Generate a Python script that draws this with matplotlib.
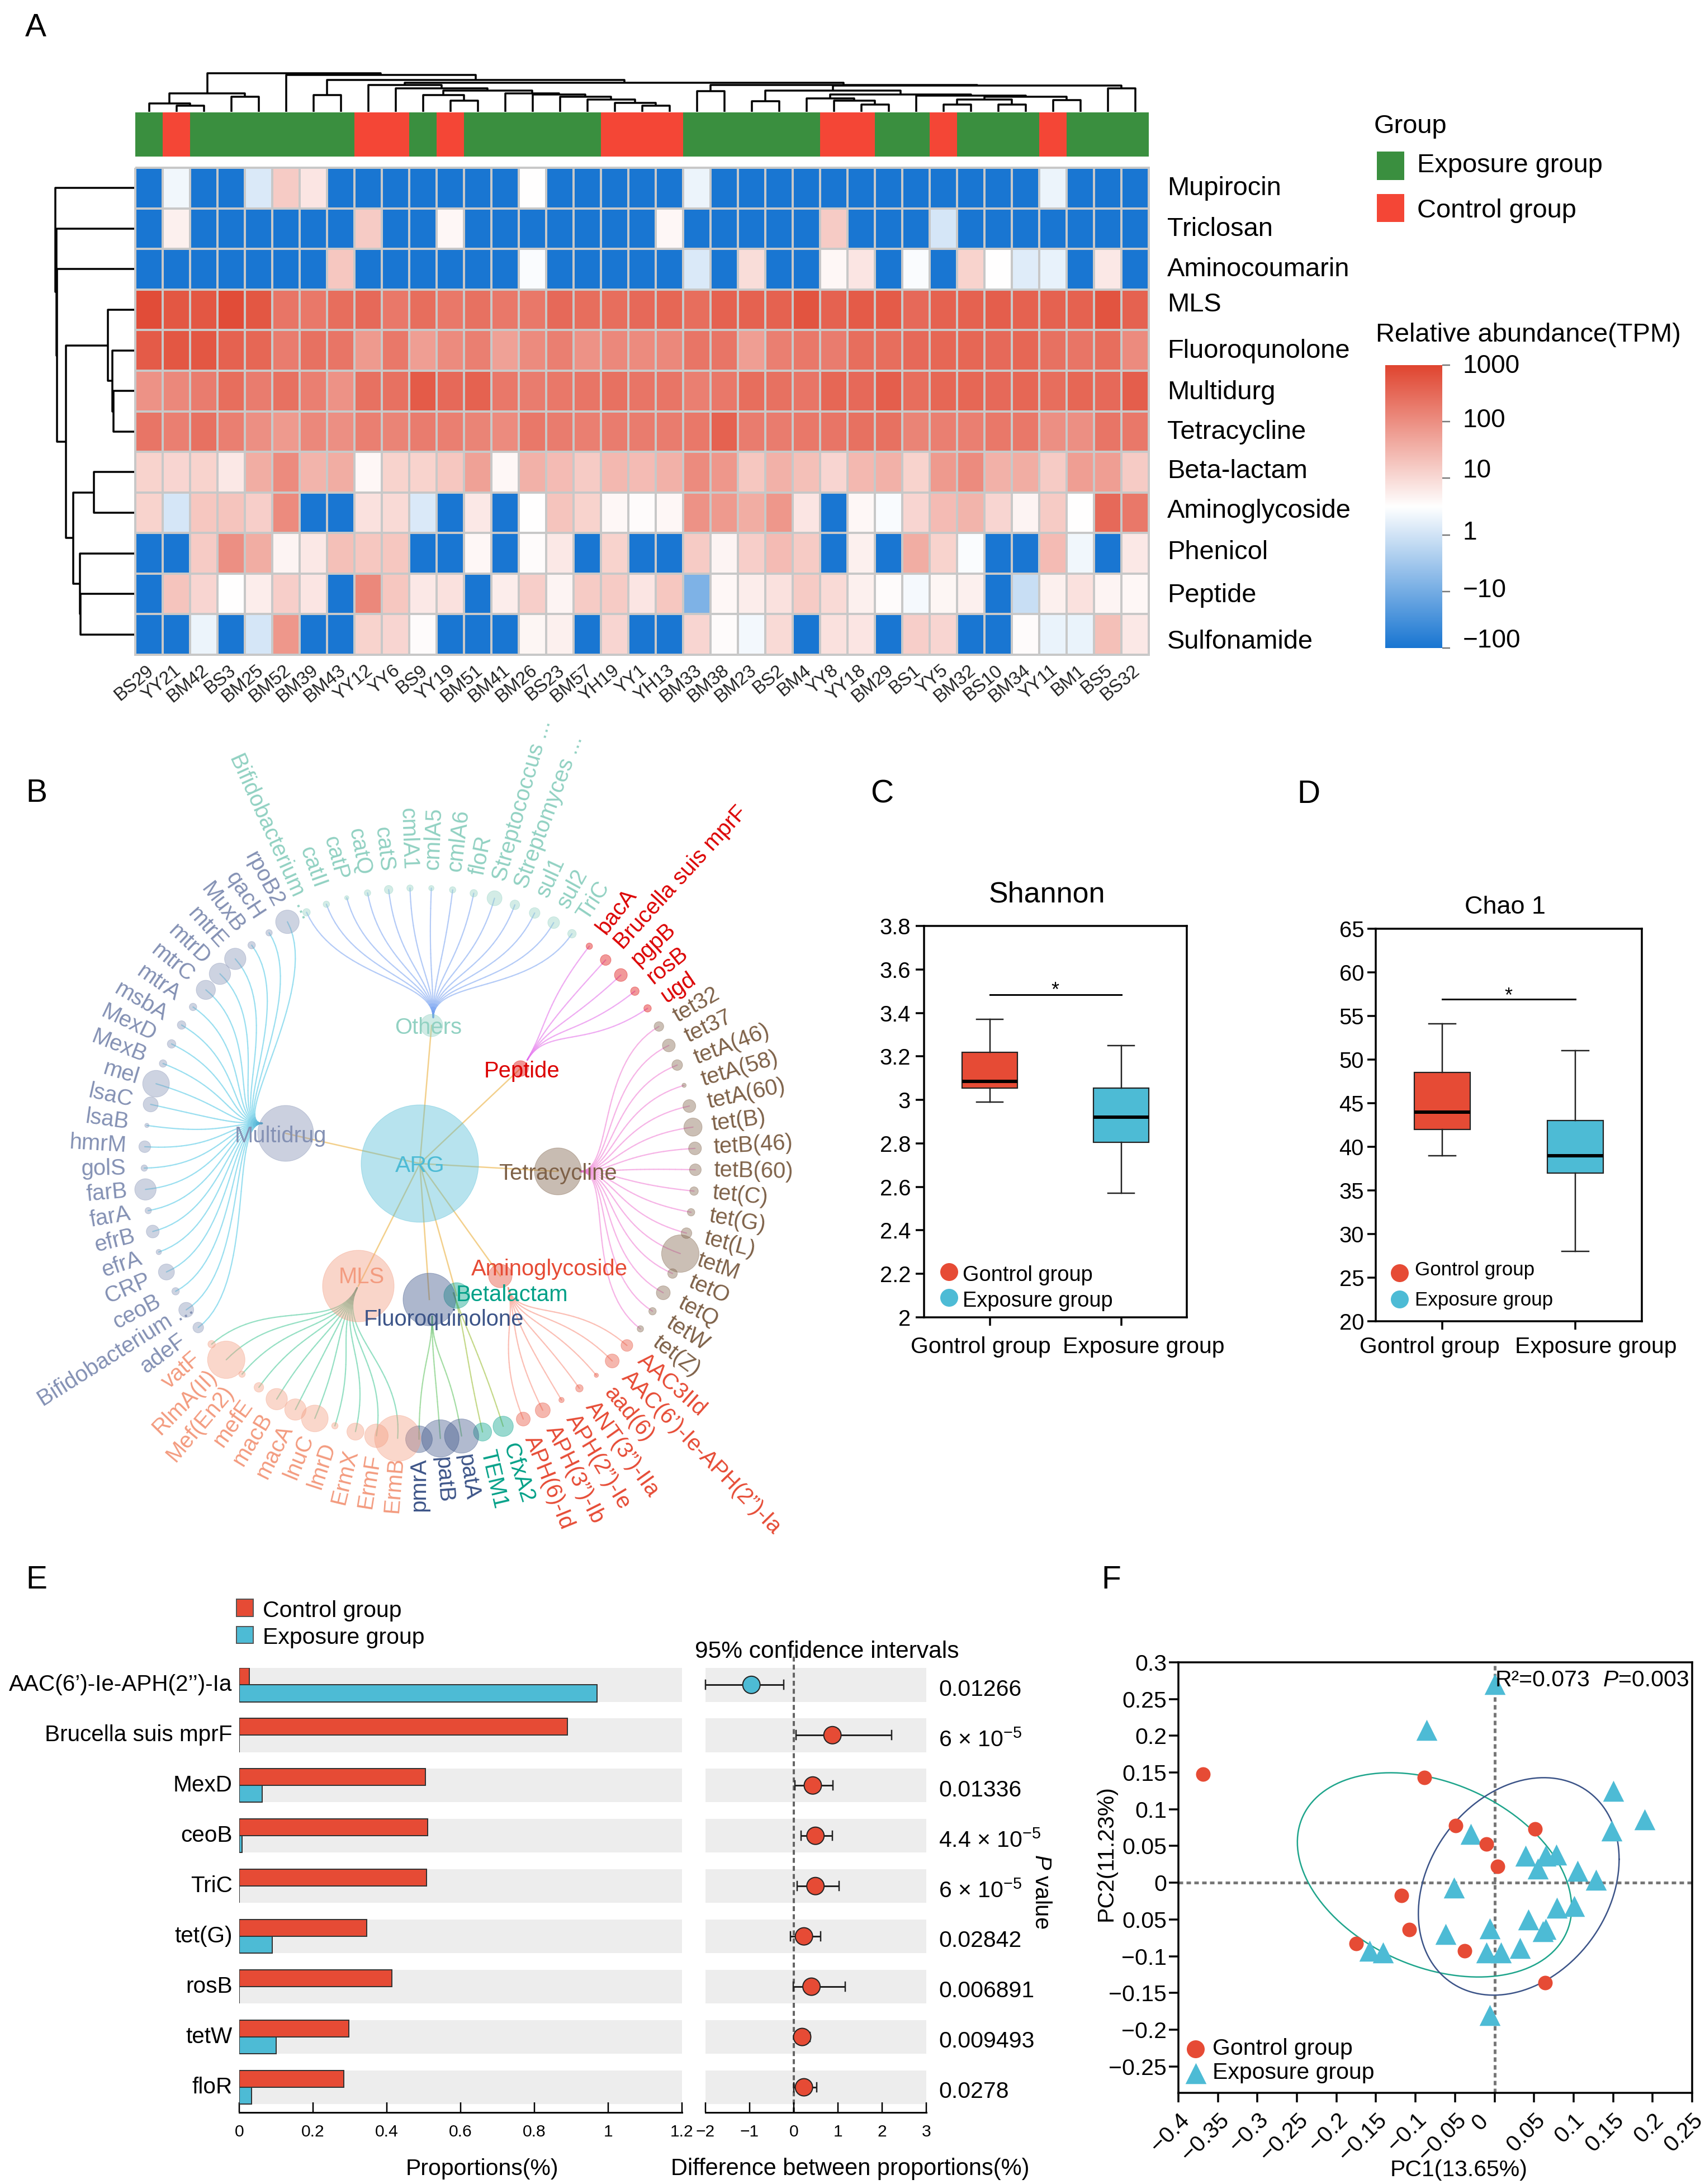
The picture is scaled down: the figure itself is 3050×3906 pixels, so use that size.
import numpy as np
import matplotlib
matplotlib.use('Agg')
import matplotlib.pyplot as plt
from matplotlib.collections import LineCollection
from matplotlib.colors import LinearSegmentedColormap, Normalize, to_rgb
from matplotlib.patches import Circle, Rectangle

plt.rcParams['font.family'] = ['Liberation Sans', 'DejaVu Sans']
plt.rcParams['mathtext.fontset'] = 'custom'
plt.rcParams['mathtext.rm'] = 'Liberation Sans'
plt.rcParams['mathtext.it'] = 'Liberation Sans:italic'
plt.rcParams['mathtext.default'] = 'regular'

W, H = 3050, 3906

# ---------- A: heatmap, values as colour levels (-2 = -100 ... 3 = 1000)
samples = ['BS29', 'YY21', 'BM42', 'BS3', 'BM25', 'BM52', 'BM39', 'BM43', 'YY12', 'YY6', 'BS9', 'YY19', 'BM51',
           'BM41', 'BM26', 'BS23', 'BM57', 'YH19', 'YY1', 'YH13', 'BM33', 'BM38', 'BM23', 'BS2', 'BM4', 'YY8',
           'YY18', 'BM29', 'BS1', 'YY5', 'BM32', 'BS10', 'BM34', 'YY11', 'BM1', 'BS5', 'BS32']
classes = ['Mupirocin', 'Triclosan', 'Aminocoumarin', 'MLS', 'Fluoroqunolone', 'Multidurg', 'Tetracycline',
           'Beta-lactam', 'Aminoglycoside', 'Phenicol', 'Peptide', 'Sulfonamide']
mupirocin = [-2, .35, -2, -2, .1, 1.2, .85, -2, -2, -2, -2, -2, -2, -2, .5, -2, -2, -2, -2, -2, .3, -2, -2, -2, -2,
             -2, -2, -2, -2, -2, -2, -2, -2, .3, -2, -2, -2]
triclosan = [-2, .7, -2, -2, -2, -2, -2, -2, 1.2, -2, -2, .6, -2, -2, -2, -2, -2, -2, -2, .6, -2, -2, -2, -2, -2,
             1.2, -2, -2, -2, .05, -2, -2, -2, -2, -2, -2, -2]
aminocoumarin = [-2, -2, -2, -2, -2, -2, -2, 1.25, -2, -2, -2, -2, -2, -2, .45, -2, -2, -2, -2, -2, .1, -2, .95, -2,
                 -2, .6, .85, -2, .45, -2, 1.1, .5, .15, .25, -2, .8, -2]
mls = [2.9, 2.75, 2.75, 2.9, 2.75, 2.35, 2.3, 2.45, 2.5, 2.3, 2.45, 2.3, 2.4, 2.3, 2.3, 2.5, 2.45, 2.45, 2.5, 2.55,
       2.45, 2.6, 2.6, 2.6, 2.8, 2.6, 2.7, 2.7, 2.5, 2.6, 2.6, 2.65, 2.6, 2.6, 2.6, 2.8, 2.6]
fluoroq = [2.7, 2.75, 2.75, 2.6, 2.55, 2.25, 2.4, 2.35, 1.85, 2.3, 1.8, 2.05, 2.2, 1.75, 2.05, 2.2, 1.95, 2.1, 2.05,
           2.1, 2.35, 2.35, 1.8, 2.2, 2.3, 2.25, 2.45, 2.45, 2.5, 2.55, 2.55, 2.5, 2.55, 2.4, 2.35, 2.45, 2.05]
multidrug = [1.95, 2.1, 2.25, 2.45, 2.25, 2.4, 2.2, 1.95, 2.4, 2.4, 2.7, 2.5, 2.6, 2.3, 2.25, 2.3, 2.35, 2.4, 2.35,
             2.35, 2.2, 2.3, 2.45, 2.4, 2.35, 2.55, 2.5, 2.65, 2.45, 2.55, 2.55, 2.5, 2.55, 2.45, 2.55, 2.5, 2.65]
tetracycline = [2.35, 2.2, 2.4, 2.2, 2, 1.85, 2.1, 2, 2.2, 2.15, 2.25, 2.2, 2.15, 2.05, 2.3, 2.25, 2.2, 2.25, 2.25,
                2.25, 2.3, 2.6, 2.25, 2.25, 2.3, 2.35, 2.4, 2.4, 2.15, 2.2, 2.2, 2.3, 2.3, 2, 2, 2.35, 2.3]
betalactam = [1.1, 1.05, 1.1, .8, 1.6, 2.05, 1.5, 1.6, .6, 1.1, 1.1, 1.25, 1.75, .6, 1.55, 1.4, 1.2, 1.45, 1.4, 1.55,
              2.05, 1.9, 1.25, 1.55, 1.35, 1.05, 1.45, 1.55, 1.1, 1.85, 2.05, 1.55, 1.6, 1.2, 1.8, 1.8, 1.2]
aminogly = [1.1, .05, 1.25, 1.3, 1.15, 2.05, -2, -2, .9, 1, .1, -2, .8, -2, .5, 1.3, 1.1, .6, .55, .6, 1.95, 1.85,
            1.6, 1.9, .85, -2, .6, .43, 1.05, 1.4, 1.5, 1.05, .65, 1.2, .5, 2.5, 2.3]
phenicol = [-2, -2, 1.2, 2, 1.6, .65, .8, 1.35, 1.25, 1.25, -2, -2, .6, -2, .55, .8, -2, 1.1, -2, -2, 1.2, .65, 1.15,
            1.4, 1.2, -2, .7, -2, 1.6, 1.1, .45, -2, -2, 1.4, .35, -2, .8]
peptide = [-2, 1.3, 1.05, .5, .75, 1.15, .85, -2, 2.1, 1.25, .8, .9, -2, .75, 1.15, .65, 1.2, 1.2, .85, 1.25, -.9,
           .6, .75, .9, 1.2, 1, .7, .55, .4, .62, .7, -2, -.1, .7, .9, .65, .6]
sulfonamide = [-2, -2, .3, -2, .05, 1.9, -2, -2, 1.1, 1.05, .55, -2, -2, -2, .62, .7, -2, 1.05, -2, -2, 1.05, .55,
               .38, 1, -2, .9, .85, -2, 1.15, 1.05, -2, -2, .55, .28, .28, 1.35, .8]
cb_values = [-2, -1, 0, 1, 2, 3]
cb_labels = ['\u2212100', '\u221210', '1', '10', '100', '1000']

# dendrograms: merges of two nodes at a height, new nodes numbered after the leaves
col_left = [1, 0, 3, 38, 6, 11, 10, 18, 17, 16, 15, 14, 13, 43, 9, 8, 20, 22, 26, 25, 24, 29, 31, 58, 33, 60, 28, 57,
            54, 35, 65, 53, 52, 41, 5, 40]
col_right = [2, 37, 4, 39, 7, 12, 42, 19, 44, 45, 46, 47, 48, 49, 50, 51, 21, 23, 27, 55, 56, 30, 32, 59, 34, 61, 62,
             63, 64, 36, 66, 67, 68, 69, 70, 71]
col_height = [11, 15, 27, 33, 30, 20, 30, 11, 16, 22, 27, 31, 33, 38, 42, 48, 37, 19, 13, 20, 24, 13, 13, 22, 21, 27,
              29, 31, 38, 42, 47, 48, 52, 57, 66, 69]
row_left = [5, 4, 3, 7, 10, 9, 15, 14, 2, 1, 0]
row_right = [6, 12, 13, 8, 11, 16, 17, 18, 19, 20, 21]
row_height = [37, 39, 47, 72, 96, 97, 109, 122, 138, 139, 141]

# ---------- B: ARG network, leaves in clockwise order from the top left
npg_others, npg_pep, npg_tet, npg_ami = '#91D1C2', '#DC0000', '#7E6148', '#E64B35'
npg_bet, npg_flu, npg_mls, npg_mul = '#00A087', '#3C5488', '#F39B7F', '#8491B4'
group_names = ['Others', 'Peptide', 'Tetracycline', 'Aminoglycoside', 'Betalactam', 'Fluoroquinolone', 'MLS',
               'Multidrug']
group_colors = [npg_others, npg_pep, npg_tet, npg_ami, npg_bet, npg_flu, npg_mls, npg_mul]
edge_colors = ['#B4CBF7', '#EFACF2', '#F6B4E6', '#FBBFB5', '#C5D98A', '#A5DDA5', '#96E0C4', '#9ADFF0']
edge_dark = ['#5F93EE', '#E36CF0', '#E46CCB', '#F59A8A', '#A9C25C', '#4FA95F', '#5E9C86', '#43A9CF']
group_x = [772, 931, 998, 895, 817, 768, 641, 511]
group_y = [1834, 1911, 2095, 2282, 2317, 2324, 2300, 2027]
group_r = [20, 14, 42, 21, 23, 47, 64, 50]
fan_x = [775, 943, 1038, 909, 811, 773, 639, 469]
fan_y = [1820, 1896, 2095, 2303, 2312, 2354, 2303, 2009]
stem_dx = [0, 35, 60, 15, 20, 0, -40, -60]
stem_dy = [-70, -60, 0, 60, 60, 70, 80, 0]
label_x = [766, 934, 998, 983, 916, 794, 647, 502]
label_y = [1834, 1912, 2095, 2266, 2312, 2356, 2280, 2028]
leaf_names = [
    ['Bifidobacterium ...', 'catII', 'catP', 'catQ', 'catS', 'cmlA1', 'cmlA5', 'cmlA6', 'floR', 'Streptococcus ...',
     'Streptomyces ...', 'sul1', 'sul2', 'TriC'],
    ['bacA', 'Brucella suis mprF', 'pgpB', 'rosB', 'ugd'],
    ['tet32', 'tet37', 'tetA(46)', 'tetA(58)', 'tetA(60)', 'tet(B)', 'tetB(46)', 'tetB(60)', 'tet(C)', 'tet(G)',
     'tet(L)', 'tetM', 'tetO', 'tetQ', 'tetW', 'tet(Z)'],
    ['AAC3IId', 'AAC(6\u2019)-Ie-APH(2\u201d)-Ia', 'aad(6)', 'ANT(3\u201d)-IIa', 'APH(2\u201d)-Ie', 'APH(3\u201d)-Ib',
     'APH(6)-Id'],
    ['CfxA2', 'TEM1'],
    ['patA', 'patB', 'pmrA'],
    ['ErmB', 'ErmF', 'ErmX', 'lmrD', 'lnuC', 'macA', 'macB', 'mefE', 'Mef(En2)', 'RlmA(II)', 'vatF'],
    ['adeF', 'Bifidobacterium ...', 'ceoB', 'CRP', 'efrA', 'efrB', 'farA', 'farB', 'golS', 'hmrM', 'lsaB', 'lsaC',
     'mel', 'MexB', 'MexD', 'msbA', 'mtrA', 'mtrC', 'mtrD', 'mtrE', 'MuxB', 'qacH', 'rpoB2'],
]
leaf_sizes = [
    [7, 6, 4, 6, 8, 6, 5, 6, 7, 14, 9, 10, 11, 8],
    [6, 10, 12, 8, 7],
    [9, 12, 10, 4, 12, 17, 12, 11, 8, 7, 10, 35, 9, 13, 7, 6],
    [11, 13, 4, 7, 5, 14, 13],
    [19, 17],
    [32, 35, 25],
    [43, 22, 16, 6, 25, 20, 20, 9, 6, 35, 7],
    [10, 14, 7, 15, 5, 12, 6, 20, 6, 11, 4, 14, 25, 7, 8, 8, 7, 18, 20, 20, 7, 6, 22],
]

# ---------- C, D: box plots
box_names = ['Gontrol group', 'Exposure group']
shannon_low = [2.99, 2.57]
shannon_q1 = [3.055, 2.805]
shannon_med = [3.085, 2.92]
shannon_q3 = [3.22, 3.055]
shannon_high = [3.37, 3.25]
chao_low = [39, 28]
chao_q1 = [42, 37]
chao_med = [44, 39]
chao_q3 = [48.5, 43]
chao_high = [54.1, 51]

# ---------- E: proportions and differences
genes = ['AAC(6\u2019)-Ie-APH(2\u2019\u2019)-Ia', 'Brucella suis mprF', 'MexD', 'ceoB', 'TriC', 'tet(G)', 'rosB',
         'tetW', 'floR']
prop_control = [.027, .89, .505, .51, .507, .345, .413, .297, .283]
prop_exposure = [.97, 0, .062, .008, 0, .09, 0, .10, .033]
diff_mean = [-.96, .875, .43, .49, .49, .23, .4, .19, .23]
diff_low = [-2, .05, .02, .16, .08, -.07, -.01, .05, 0]
diff_high = [-.23, 2.22, .89, .87, 1.03, .61, 1.17, .37, .52]
p_values = ['0.01266', '6 \u00d7 10$^{\u22125}$', '0.01336', '4.4 \u00d7 10$^{\u22125}$', '6 \u00d7 10$^{\u22125}$',
            '0.02842', '0.006891', '0.009493', '0.0278']

# ---------- F: PCoA
ctrl_pc1 = [-.369, -.089, -.049, .051, -.01, .004, -.118, -.108, -.175, -.038, .064]
ctrl_pc2 = [.148, .143, .078, .073, .053, .022, -.017, -.064, -.083, -.093, -.136]
expo_pc1 = [0, -.086, .15, .19, .148, -.03, .039, .065, .078, .055, .105, .128, -.051, .079, .101, .043, .065, .061,
            -.006, -.062, .032, .008, -.01, -.158, -.141, -.006]
expo_pc2 = [.27, .208, .125, .086, .071, .066, .037, .037, .038, .019, .016, .004, -.007, -.034, -.032, -.05, -.063,
            -.066, -.062, -.07, -.089, -.095, -.095, -.093, -.095, -.18]
# ellipse: centre x, centre y, half width, half height, correlation
ell_green = [-.076, .0107, .1735, .139, -.32]
ell_blue = [.0306, -.005, .127, .148, .25]
pc1_ticks = [-.4, -.35, -.3, -.25, -.2, -.15, -.1, -.05, 0, .05, .1, .15, .2, .25]
pc1_labels = ['\u22120.4', '\u22120.35', '\u22120.3', '\u22120.25', '\u22120.2', '\u22120.15', '\u22120.1',
              '\u22120.05', '', '0.05', '0.1', '0.15', '0.2', '0.25']
pc2_ticks = [.3, .25, .2, .15, .1, .05, 0, -.05, -.1, -.15, -.2, -.25]
pc2_labels = ['0.3', '0.25', '0.2', '0.15', '0.1', '0.05', '0', '0.05', '\u22120.1', '\u22120.15', '\u22120.2',
              '\u22120.25']

RED = '#E64B35'
BLUE = '#4DBBD5'
GREEN_ANN = '#3A8F3F'
RED_ANN = '#F44636'
PX = 72 / 100  # points per pixel at dpi=100

fig = plt.figure(figsize=(W / 100, H / 100), dpi=100)


def ax_px(l, t, r, b):
    return fig.add_axes([l / W, 1 - b / H, (r - l) / W, (b - t) / H])


def dendro_segments(n, left, right, height):
    pos = list(range(n))
    hgt = [0] * n
    segs = []
    for a, b, h in zip(left, right, height):
        segs.append([(pos[a], hgt[a]), (pos[a], h), (pos[b], h), (pos[b], hgt[b])])
        pos.append((pos[a] + pos[b]) / 2)
        hgt.append(h)
    return segs


# panel A
cmap = LinearSegmentedColormap.from_list('abund', ['#1976D2', '#FFFFFF', '#E04530'])
norm = Normalize(-2, 3)
matrix = np.array([mupirocin, triclosan, aminocoumarin, mls, fluoroq, multidrug, tetracycline, betalactam, aminogly,
                   phenicol, peptide, sulfonamide])
ax = ax_px(242, 300, 2055, 1171)
ax.pcolormesh(matrix, cmap=cmap, norm=norm, edgecolors='#C8C8C8', linewidth=3.5 * PX, clip_on=False)
ax.set_xlim(0, len(samples))
ax.set_ylim(len(classes), 0)
ax.axis('off')
for i, s in enumerate(samples):
    ax.annotate(s, (i + .5, len(classes)), xytext=(-4, -9), textcoords='offset points', rotation=40,
                rotation_mode='anchor', ha='right', va='top', fontsize=33 * PX, color='#222222')

ax = ax_px(242, 201, 2055, 280)
is_control = [s[:2] in ('YY', 'YH') for s in samples]
ax.pcolormesh([is_control], cmap=LinearSegmentedColormap.from_list('grp', [GREEN_ANN, RED_ANN]))
ax.axis('off')

ax = ax_px(242, 120, 2055, 200)
segs = dendro_segments(len(samples), col_left, col_right, col_height)
ax.add_collection(LineCollection(segs, colors='black', linewidths=3.5 * PX, clip_on=False))
ax.set_xlim(-.5, len(samples) - .5)
ax.set_ylim(0, 80)
ax.axis('off')

ax = ax_px(90, 300, 240, 1171)
segs = dendro_segments(len(classes), row_left, row_right, row_height)
segs = [[(h, p) for p, h in s] for s in segs]
ax.add_collection(LineCollection(segs, colors='black', linewidths=3.5 * PX, clip_on=False))
ax.set_xlim(150, 0)
ax.set_ylim(len(classes) - .5, -.5)
ax.axis('off')

ax = ax_px(2478, 653, 2580, 1159)
ax.imshow(np.linspace(3, -2, 256)[:, None], cmap=cmap, norm=norm, aspect='auto', extent=(0, 1, -2, 3))
ax.set_xticks([])
ax.yaxis.tick_right()
ax.set_yticks(cb_values)
ax.set_yticklabels([])
ax.tick_params(axis='y', length=14 * PX, width=2.5 * PX, color='#777777')
for s in ax.spines.values():
    s.set_visible(False)

# panels C and D
def box_panel(rect, ylim, ticks, labels, low, q1, med, q3, high, sig_y, tick_pad):
    ax = ax_px(*rect)
    stats = [dict(whislo=low[i], q1=q1[i], med=med[i], q3=q3[i], whishi=high[i], fliers=[]) for i in range(2)]
    bp = ax.bxp(stats, positions=[1, 2], widths=.42, patch_artist=True, showfliers=False, capwidths=.2,
                boxprops=dict(linewidth=2.2 * PX, edgecolor='#222222'),
                medianprops=dict(color='black', linewidth=6 * PX, solid_capstyle='butt'),
                whiskerprops=dict(color='#222222', linewidth=2.5 * PX),
                capprops=dict(color='#222222', linewidth=2.5 * PX))
    for b, c in zip(bp['boxes'], [RED, BLUE]):
        b.set_facecolor(c)
    ax.plot([1, 2], [sig_y, sig_y], color='black', lw=3 * PX)
    ax.set_xlim(.5, 2.5)
    ax.set_ylim(*ylim)
    ax.set_xticks([1, 2])
    ax.set_xticklabels([])
    ax.set_yticks(ticks)
    ax.set_yticklabels(labels, fontsize=40 * PX)
    ax.tick_params(axis='both', length=15 * PX, width=3.5 * PX)
    ax.tick_params(axis='y', pad=tick_pad * PX)
    for s in ax.spines.values():
        s.set_linewidth(3.5 * PX)
    return ax


box_panel((1653, 1656, 2123, 2356), (2, 3.8), [2, 2.2, 2.4, 2.6, 2.8, 3, 3.2, 3.4, 3.6, 3.8],
          ['2', '2.2', '2.4', '2.6', '2.8', '3', '3.2', '3.4', '3.6', '3.8'],
          shannon_low, shannon_q1, shannon_med, shannon_q3, shannon_high, 3.484, 9)
box_panel((2461, 1661, 2937, 2363), (20, 65), list(range(20, 70, 5)), [str(v) for v in range(20, 70, 5)],
          chao_low, chao_q1, chao_med, chao_q3, chao_high, 56.9, 6)

# panel E
y_lim_e = (8.5, -.337)
bar_h = .336
ax = ax_px(428, 2983, 1220, 3778)
ys = np.arange(len(genes))
ax.barh(ys, [1.2] * len(genes), height=.672, color='#EDEDED', zorder=0)
ax.barh(ys - bar_h / 2, prop_control, height=bar_h, color=RED, edgecolor='#333333', linewidth=2 * PX, zorder=2)
ax.barh(ys + bar_h / 2, prop_exposure, height=bar_h, color=BLUE, edgecolor='#333333', linewidth=2 * PX, zorder=2)
ax.set_xlim(0, 1.2)
ax.set_ylim(*y_lim_e)
ax.set_yticks([])
ax.set_xticks([0, .2, .4, .6, .8, 1, 1.2])
ax.set_xticklabels(['0', '0.2', '0.4', '0.6', '0.8', '1', '1.2'], fontsize=30 * PX)
ax.tick_params(axis='x', direction='in', length=18 * PX, width=2.5 * PX, pad=15)
for k in ('top', 'left', 'right'):
    ax.spines[k].set_visible(False)
ax.spines['bottom'].set_linewidth(3 * PX)
for i, g in enumerate(genes):
    ax.annotate(g, (0, i), xytext=(-9, 0), textcoords='offset points', ha='right', va='center', fontsize=40.5 * PX)

ax = ax_px(1262, 2983, 1657, 3778)
ax.barh(ys, [5] * len(genes), left=-2, height=.672, color='#EDEDED', zorder=0)
ax.axvline(0, ymin=0, ymax=1.03, color='#666666', ls=(0, (2.2, 1.4)), lw=4 * PX, zorder=1, clip_on=False)
ax.hlines(ys, diff_low, diff_high, color='#222222', lw=3 * PX, zorder=2, clip_on=False)
for lo, hi, y in zip(diff_low, diff_high, ys):
    ax.plot([lo, lo], [y - .09, y + .09], color='#222222', lw=2.5 * PX, zorder=2, clip_on=False)
    ax.plot([hi, hi], [y - .09, y + .09], color='#222222', lw=2.5 * PX, zorder=2, clip_on=False)
ax.scatter(diff_mean, ys, s=(31 * PX) ** 2, c=[BLUE] + [RED] * (len(genes) - 1), edgecolors='#222222',
           linewidths=2 * PX, zorder=3)
ax.set_xlim(-2, 3)
ax.set_ylim(*y_lim_e)
ax.set_yticks([])
ax.set_xticks(range(-2, 4))
ax.set_xticklabels(['\u22122', '\u22121', '0', '1', '2', '3'], fontsize=30 * PX)
ax.tick_params(axis='x', direction='in', length=18 * PX, width=2.5 * PX, pad=15)
for k in ('top', 'left', 'right'):
    ax.spines[k].set_visible(False)
ax.spines['bottom'].set_linewidth(3 * PX)
for i, p in enumerate(p_values):
    ax.annotate(p, (3, i), xytext=(16, -6), textcoords='offset points', ha='left', va='center', fontsize=41 * PX)

# panel F
ax = ax_px(2108, 2973, 3027, 3743)
ax.axhline(0, color='#777777', ls=(0, (1.6, 1.2)), lw=5 * PX, zorder=1)
ax.axvline(0, color='#777777', ls=(0, (1.6, 1.2)), lw=5 * PX, zorder=1)
t = np.linspace(0, 2 * np.pi, 300)
for (cx, cy, a, b, rho), col in zip([ell_green, ell_blue], ['#1FA58C', '#3C5488']):
    ax.plot(cx + a * np.cos(t), cy + b * np.cos(t - np.arccos(rho)), color=col, lw=2.5 * PX, zorder=2)
ax.scatter(expo_pc1, expo_pc2, marker='^', s=(35 * PX) ** 2 * 1.15, color=BLUE, linewidths=0, zorder=3)
ax.scatter(ctrl_pc1, ctrl_pc2, marker='o', s=(26 * PX) ** 2, color=RED, linewidths=0, zorder=4)
ax.set_xlim(-.4, .25)
ax.set_ylim(-.286, .3)
ax.set_xticks(pc1_ticks)
ax.set_xticklabels(pc1_labels, fontsize=41 * PX, rotation=45, rotation_mode='anchor', ha='right', va='top')
ax.set_yticks(pc2_ticks)
ax.set_yticklabels(pc2_labels, fontsize=41 * PX)
ax.tick_params(axis='both', length=17 * PX, width=3.5 * PX)
ax.tick_params(axis='y', pad=4 * PX)
ax.tick_params(axis='x', pad=12 * PX)
for s in ax.spines.values():
    s.set_linewidth(3.5 * PX)

# overlay in pixel coordinates for panel B, legends and loose text
ov = ax_px(0, 0, W, H)
ov.set_xlim(0, W)
ov.set_ylim(H, 0)
ov.axis('off')


def T(x, y, s, px, ha='left', va='center', **kw):
    if 'rotation' not in kw:
        y = y + 4
    return ov.text(x, y, s, fontsize=px * PX, ha=ha, va=va, **kw)


for letter, x, y in [('A', 45, 46), ('B', 46, 1415), ('C', 1557, 1417), ('D', 2320, 1417), ('E', 46, 2822),
                     ('F', 1970, 2822)]:
    T(x, y, letter, 57)

# A text
row_label_y = [333, 406, 478, 541, 624, 698, 769, 839, 910, 984, 1061, 1144]
for name, y in zip(classes, row_label_y):
    T(2088, y, name, 47)
T(2458, 222, 'Group', 47)
ov.add_patch(Rectangle((2463, 271), 49, 51, color=GREEN_ANN, lw=0))
ov.add_patch(Rectangle((2463, 347), 49, 50, color=RED_ANN, lw=0))
T(2535, 292, 'Exposure group', 47)
T(2535, 373, 'Control group', 47)
T(2461, 595, 'Relative abundance(TPM)', 47)
cb_label_y = [1142, 1052, 949, 838, 748, 651]
for lab, y in zip(cb_labels, cb_label_y):
    T(2617, y, lab, 46)

# B network
cx0, cy0 = 751, 2081
R_leaf, R_label = 493, 526
step = 360 / sum(len(n) for n in leaf_names)
theta = -24.27
s_t = np.linspace(0, 1, 31)
for gi, (names, sizes) in enumerate(zip(leaf_names, leaf_sizes)):
    col = group_colors[gi]
    ov.plot([cx0, group_x[gi]], [cy0, group_y[gi]], color='#F3D08C', lw=2.5 * PX, zorder=2)
    p0 = np.array([fan_x[gi], fan_y[gi]], float)
    p1 = p0 + [stem_dx[gi], stem_dy[gi]]
    dark, light = np.array(to_rgb(edge_dark[gi])), np.array(to_rgb(edge_colors[gi]))
    for name, r in zip(names, sizes):
        th = np.deg2rad(theta)
        u = np.array([np.sin(th), -np.cos(th)])
        p3 = np.array([cx0, cy0]) + R_leaf * u
        p2 = p3 - 130 * u
        curve = np.outer((1 - s_t) ** 3, p0) + np.outer(3 * (1 - s_t) ** 2 * s_t, p1) \
            + np.outer(3 * (1 - s_t) * s_t ** 2, p2) + np.outer(s_t ** 3, p3)
        pieces = np.stack([curve[:-1], curve[1:]], axis=1)
        mix = np.clip(s_t[:-1] / .16, 0, 1)[:, None]
        ov.add_collection(LineCollection(pieces, colors=dark * (1 - mix) + light * mix, linewidths=2.2 * PX,
                                         zorder=3, capstyle='round'))
        ov.add_patch(Circle(p3, r / 1.045, fc=col, ec=col, lw=1 * PX, alpha=.4, zorder=4))
        a = theta % 360
        rl = R_label - 44 if (name.endswith('...') and a > 180) else R_label
        lp = np.array([cx0, cy0]) + rl * u
        if a <= 180:
            T(lp[0], lp[1], name, 40, ha='left', rotation=90 - a, rotation_mode='anchor', color=col, zorder=6)
        else:
            T(lp[0], lp[1], name, 40, ha='right', rotation=270 - a, rotation_mode='anchor', color=col, zorder=6)
        theta += step
    ov.add_patch(Circle((group_x[gi], group_y[gi]), group_r[gi], fc=col, ec=col, lw=1 * PX, alpha=.42, zorder=4))
    txt = T(label_x[gi], label_y[gi], group_names[gi], 40, ha='center', color=col, zorder=6)
    if group_names[gi] == 'Others':
        txt.set_clip_path(Rectangle((700, 1780), 121, 110, transform=ov.transData))
ov.add_patch(Circle((cx0, cy0), 105, fc=BLUE, ec=BLUE, lw=1 * PX, alpha=.4, zorder=4))
T(cx0, cy0, 'ARG', 41, ha='center', color=BLUE, zorder=6)

# C, D text
T(1873, 1596, 'Shannon', 52, ha='center')
T(2693, 1619, 'Chao 1', 45, ha='center')
T(1887, 1768, '*', 36, ha='center')
T(2698, 1778, '*', 36, ha='center')
T(1754, 2405, box_names[0], 41, ha='center')
T(2046, 2405, box_names[1], 41, ha='center')
T(2557, 2405, box_names[0], 41, ha='center')
T(2855, 2405, box_names[1], 41, ha='center')
for x, y, c in [(1698, 2275, RED), (1698, 2321, BLUE), (2504, 2277, RED), (2504, 2324, BLUE)]:
    ov.add_patch(Circle((x, y), 16, color=c, lw=0))
T(1722, 2277, box_names[0], 38)
T(1722, 2323, box_names[1], 38)
T(2531, 2268, box_names[0], 35)
T(2531, 2321, box_names[1], 35)

# E text
ov.add_patch(Rectangle((423, 2860), 30, 31, fc=RED, ec='#555555', lw=2 * PX))
ov.add_patch(Rectangle((423, 2909), 30, 30, fc=BLUE, ec='#555555', lw=2 * PX))
T(470, 2877, 'Control group', 41)
T(470, 2925, 'Exposure group', 41)
T(1243, 2950, '95% confidence intervals', 42.5)
T(862, 3875, 'Proportions(%)', 41, ha='center')
T(1521, 3875, 'Difference between proportions(%)', 41.5, ha='center')
T(1863, 3383, '$\\mathit{P}$ value', 40, ha='center', rotation=-90)

# F text
T(2675, 3001, 'R\u00b2=0.073', 41)
T(2868, 3001, 'P', 41, style='italic')
T(2895, 3001, '=0.003', 41)
T(2610, 3877, 'PC1(13.65%)', 41, ha='center')
T(1979, 3315, 'PC2(11.23%)', 41, ha='center', rotation=90)
T(2648, 3796, '0', 41, ha='center', rotation=45)
ov.add_patch(Circle((2139, 3665), 16, color=RED, lw=0))
ov.scatter([2139], [3708], marker='^', s=(35 * PX) ** 2 * 1.15, color=BLUE, linewidths=0)
T(2169, 3660, box_names[0], 41)
T(2169, 3703, box_names[1], 41)

fig.savefig('out.png', dpi=100)
